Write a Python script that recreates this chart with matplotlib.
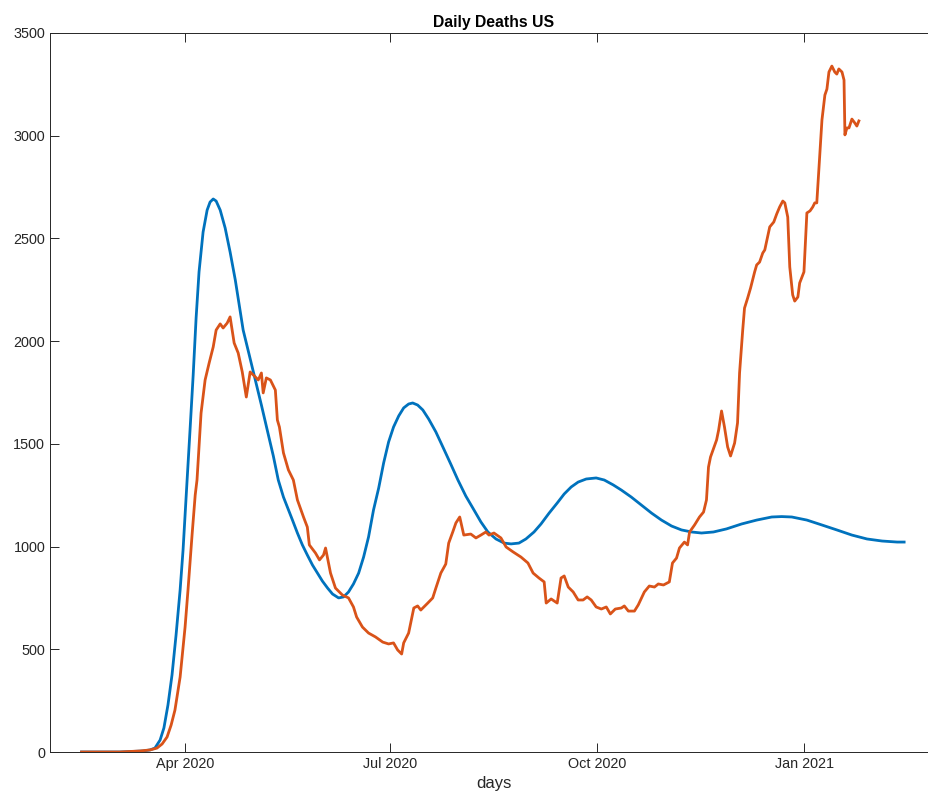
import matplotlib
matplotlib.use("Agg")
import matplotlib.pyplot as plt
import matplotlib.dates as mdates
import numpy as np
import pandas as pd

plt.rcParams['font.family'] = ['Liberation Sans', 'DejaVu Sans']

# days counted from 15 Feb 2020
start_date = pd.Timestamp('2020-02-15')

# model curve (blue)
model_day = [0, 17, 27.3, 30.4, 32.6, 34.9, 36.6, 38.4, 40.2, 42.0, 43.8, 45.1, 46.9, 48.2,
             49.6, 50.9, 52.2, 54.0, 55.8, 57.1, 58.5, 59.8, 61.6, 63.8, 66.0, 68.3, 71.8,
             74.5, 77.2, 79.9, 82.5, 85.2, 87.4, 89.7, 93.7, 95.9, 98.1, 100.3, 102.6, 104.8,
             107.0, 109.3, 111.5, 114.2, 116.4, 118.6, 120.8, 123.1, 125.3, 127.5, 129.7,
             132.0, 134.2, 136.4, 138.6, 140.9, 143.1, 145.3, 147.1, 149.3, 151.6, 154.2,
             157.4, 160.5, 164.0, 167.2, 170.7, 173.8, 177.4, 180.5, 184.1, 187.7, 190.8,
             194.3, 197.4, 201.0, 204.1, 207.7, 211.3, 214.4, 217.5, 220.6, 224.2, 228.6,
             232.2, 236.2, 239.8, 244.2, 248.7, 253.2, 257.6, 262.1, 266.5, 271.0, 275.4,
             280.7, 286.5, 293.2, 299.9, 306.6, 311.0, 315.5, 322.2, 328.9, 335.5, 342.2,
             348.9, 355.6, 362.3, 365.4]
model_deaths = [0, 0, 5, 10, 19, 58, 117, 229, 375, 570, 789, 983, 1324, 1567,
                1835, 2113, 2337, 2531, 2638, 2677, 2692, 2682, 2638, 2551, 2434, 2298, 2054,
                1933, 1811, 1689, 1567, 1441, 1324, 1241, 1129, 1066, 1008, 959, 910, 871,
                832, 798, 769, 750, 755, 779, 818, 871, 949, 1047, 1178,
                1285, 1407, 1509, 1582, 1636, 1675, 1694, 1699, 1689, 1665, 1621,
                1558, 1485, 1402, 1324, 1246, 1188, 1120, 1071, 1037, 1017, 1013,
                1017, 1037, 1071, 1110, 1163, 1212, 1256, 1290, 1314, 1329, 1334,
                1324, 1300, 1275, 1241, 1202, 1163, 1129, 1100, 1081, 1071, 1066,
                1071, 1086, 1110, 1129, 1144, 1146, 1144, 1129, 1105, 1081, 1056,
                1037, 1027, 1022, 1022]

# reported daily deaths (orange)
actual_day = [0, 17, 26, 30.4, 33.5, 35.8, 38.0, 39.8, 41.5, 43.8, 46.0, 47.3, 49.1, 50.5,
              51.3, 53.1, 54.9, 56.7, 58.5, 59.8, 61.6, 62.9, 64.7, 66.0, 67.8, 69.6, 71.4,
              73.2, 74.9, 77.2, 78.5, 79.9, 80.7, 82.1, 83.9, 86.1, 87.0, 87.9, 89.7, 91.9,
              94.1, 95.9, 98.6, 100.3, 101.2, 103.9, 105.7, 107.5, 108.4, 110.6, 112.8,
              115.9, 118.6, 120.8, 122.2, 124.8, 127.5, 130.6, 133.8, 136.4, 138.6, 140.4,
              142.2, 143.1, 145.3, 147.6, 149.3, 150.7, 153.8, 156.0, 157.4, 159.6, 161.8,
              163.1, 164.9, 166.3, 168.0, 169.8, 172.9, 175.2, 177.4, 179.6, 181.0, 183.2,
              186.3, 188.6, 191.7, 195.2, 198.3, 200.6, 203.2, 205.5, 206.4, 208.6, 211.3,
              213.0, 214.4, 216.2, 218.4, 220.6, 222.8, 224.6, 226.4, 228.6, 230.9, 233.1,
              234.9, 237.1, 239.8, 241.1, 242.9, 245.6, 247.3, 250.0, 252.2, 254.5, 256.2,
              258.5, 261.1, 262.5, 264.3, 265.6, 267.8, 269.2, 270.1, 272.3, 274.5, 276.3,
              277.6, 278.5, 279.4, 282.1, 283.0, 284.3, 285.6, 287.0, 288.3, 290.1, 291.4,
              292.3, 293.7, 294.5, 295.9, 297.2, 299.0, 299.9, 301.2, 302.6, 303.5, 305.7,
              307.5, 308.8, 310.1, 311.5, 312.4, 313.7, 314.6, 315.9, 316.8, 318.2, 319.0,
              320.9, 322.2, 323.6, 324.8, 325.7, 326.6, 327.5, 328.9, 330.2, 331.1, 332.0,
              333.3, 334.6, 335.5, 336.4, 337.8, 338.7, 339.1, 340.0, 340.9, 342.2, 343.5,
              344.4, 345.3]
actual_deaths = [0, 0, 5, 10, 19, 39, 73, 131, 204, 365, 608, 789, 1056, 1251,
                 1324, 1650, 1811, 1894, 1972, 2054, 2084, 2064, 2088, 2118, 1991, 1942, 1850,
                 1728, 1850, 1826, 1811, 1845, 1748, 1821, 1811, 1762, 1616, 1582, 1456, 1373,
                 1324, 1227, 1144, 1095, 1008, 969, 935, 959, 993, 871, 798,
                 764, 750, 706, 657, 608, 579, 560, 535, 526, 531, 497,
                 477, 531, 579, 701, 711, 691, 725, 750, 798, 871, 915,
                 1017, 1071, 1115, 1144, 1056, 1061, 1042, 1056, 1071, 1056, 1066,
                 1042, 998, 974, 949, 920, 871, 847, 828, 725, 745, 725,
                 847, 857, 803, 779, 740, 740, 755, 740, 706, 696, 706,
                 672, 696, 701, 711, 686, 686, 716, 779, 808, 803, 818,
                 813, 828, 920, 944, 993, 1022, 1008, 1071, 1105, 1144, 1168,
                 1227, 1387, 1436, 1519, 1567, 1660, 1582, 1485, 1441, 1504, 1602,
                 1845, 2054, 2161, 2210, 2259, 2337, 2371, 2385, 2429, 2444, 2556,
                 2580, 2619, 2653, 2682, 2673, 2604, 2361, 2225, 2195, 2215, 2283,
                 2337, 2624, 2634, 2653, 2673, 2673, 2833, 3077, 3198, 3227, 3310,
                 3339, 3310, 3300, 3325, 3310, 3271, 3004, 3038, 3038, 3081, 3062,
                 3047, 3072]

model_dates = start_date + pd.to_timedelta(np.array(model_day), unit='D')
actual_dates = start_date + pd.to_timedelta(np.array(actual_day), unit='D')

fig = plt.figure(figsize=(9.29, 7.95), dpi=100)
# right edge of the box sits just outside the picture, as in the reference
ax = fig.add_axes([50/929, 43/795, 887/929, 719/795])

ax.plot(model_dates, model_deaths, color='#0072BD', linewidth=2)
ax.plot(actual_dates, actual_deaths, color='#D95319', linewidth=2)

ax.set_xlim(pd.Timestamp('2020-02-01'), pd.Timestamp('2021-03-01'))
ax.set_ylim(0, 3500)
ax.set_yticks(range(0, 3501, 500))
ax.xaxis.set_major_locator(mdates.MonthLocator(bymonth=[1, 4, 7, 10]))
ax.xaxis.set_major_formatter(mdates.DateFormatter('%b %Y'))

ax.tick_params(direction='in', length=6.5, width=0.7, colors='#262626',
               labelsize=10.4, top=True, right=True)
for s in ax.spines.values():
    s.set_color('#262626')
    s.set_linewidth(0.7)
ax.spines['right'].set_visible(False)

ax.set_title('Daily Deaths US', fontsize=11.3, fontweight='bold', pad=4)
ax.set_xlabel('days', fontsize=12, color='#262626', labelpad=4)

fig.savefig('out.png', dpi=100)
